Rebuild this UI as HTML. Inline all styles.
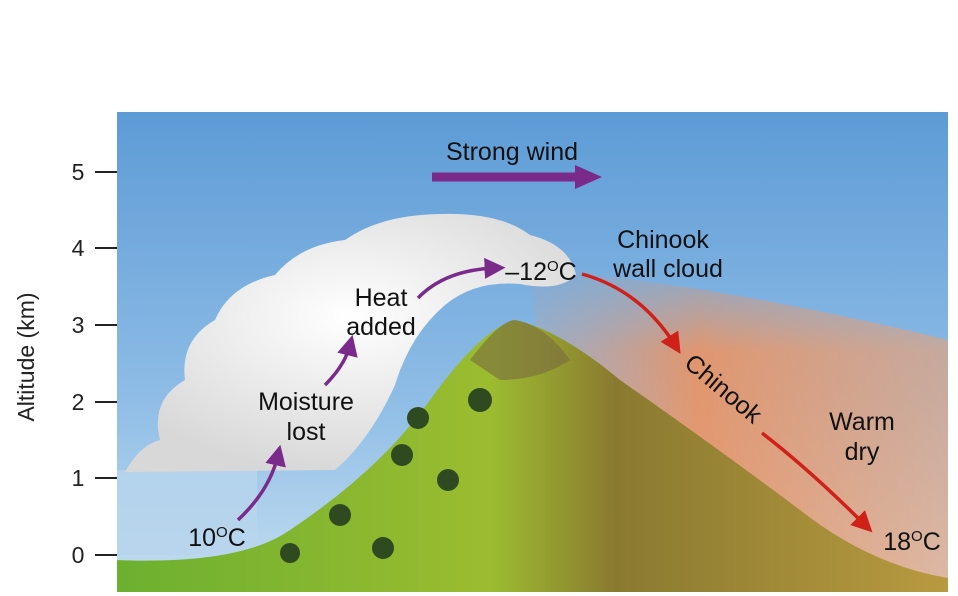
<!DOCTYPE html>
<html><head><meta charset="utf-8"><style>
html,body{margin:0;padding:0;background:#fff;}
svg{display:block;font-family:"Liberation Sans",Arial,sans-serif;}
</style></head><body>
<svg width="958" height="596" viewBox="0 0 958 596" xmlns="http://www.w3.org/2000/svg">
<defs>
<linearGradient id="sky" x1="0" y1="0" x2="0" y2="1">
<stop offset="0" stop-color="#5d9bd6"/><stop offset="0.6" stop-color="#8fbde6"/><stop offset="1" stop-color="#c4def0"/>
</linearGradient>
<linearGradient id="haze" x1="0" y1="0" x2="1" y2="0">
<stop offset="0" stop-color="#f09060" stop-opacity="0.2"/><stop offset="0.4" stop-color="#f0905a" stop-opacity="0.85"/><stop offset="1" stop-color="#f0a070" stop-opacity="0.6"/>
</linearGradient>
<linearGradient id="hazev" x1="0" y1="0" x2="0" y2="1">
<stop offset="0" stop-color="#fff" stop-opacity="0"/><stop offset="0.3" stop-color="#fff" stop-opacity="1"/><stop offset="1" stop-color="#fff" stop-opacity="1"/>
</linearGradient>
<mask id="hm"><rect x="500" y="250" width="460" height="340" fill="url(#hazev)"/></mask>
<linearGradient id="mtn" x1="0" y1="0" x2="1" y2="0">
<stop offset="0" stop-color="#6cb030"/><stop offset="0.45" stop-color="#9cbc30"/><stop offset="0.6" stop-color="#8a7a30"/><stop offset="1" stop-color="#b89a40"/>
</linearGradient>
<radialGradient id="cl" cx="0.5" cy="0.4" r="0.6">
<stop offset="0" stop-color="#ffffff"/><stop offset="1" stop-color="#d8d8d8"/>
</radialGradient>
<marker id="ap" markerWidth="6" markerHeight="6" refX="3" refY="3" orient="auto"><path d="M0,0 L6,3 L0,6z" fill="#7a2a8a"/></marker>
<marker id="ar" markerWidth="6" markerHeight="6" refX="3" refY="3" orient="auto"><path d="M0,0 L6,3 L0,6z" fill="#d0201a"/></marker>
</defs>
<rect x="117" y="112" width="831" height="480" fill="url(#sky)"/>
<path d="M530,270 Q700,280 948,340 L948,585 L560,585 Z" fill="url(#haze)" mask="url(#hm)"/>
<rect x="117" y="470" width="140" height="85" fill="#b8d4ec" opacity="0.8"/>
<path d="M117,560 Q240,565 290,530 Q380,470 430,400 Q480,330 515,320 Q560,330 620,380 Q720,450 800,510 Q870,565 948,578 L948,592 L117,592 Z" fill="url(#mtn)"/>
<path d="M470,360 Q500,320 515,320 Q545,325 570,360 Q540,380 500,380 Z" fill="#7a6a40" opacity="0.6"/>
<path d="M125,472 Q140,445 160,440 Q150,400 185,380 Q180,340 215,320 Q230,285 275,275 Q300,245 345,240 Q380,215 440,214 Q500,212 530,235 Q570,245 576,275 Q560,292 520,284 Q475,280 445,305 Q410,335 395,385 Q370,440 335,470 Z" fill="url(#cl)"/>
<g fill="#2f4a20"><circle cx="480" cy="400" r="12"/><circle cx="418" cy="418" r="11"/><circle cx="402" cy="455" r="11"/><circle cx="448" cy="480" r="11"/><circle cx="340" cy="515" r="11"/><circle cx="383" cy="548" r="11"/><circle cx="290" cy="553" r="10"/></g>
<rect x="0" y="0" width="958" height="112" fill="#fff"/>
<g stroke="#222" stroke-width="2"><line x1="95" y1="172" x2="117" y2="172"/><line x1="95" y1="248" x2="117" y2="248"/><line x1="95" y1="325" x2="117" y2="325"/><line x1="95" y1="402" x2="117" y2="402"/><line x1="95" y1="478" x2="117" y2="478"/><line x1="95" y1="555" x2="117" y2="555"/></g>
<g font-size="23" fill="#222" text-anchor="middle"><text x="78" y="180">5</text><text x="78" y="256">4</text><text x="78" y="333">3</text><text x="78" y="410">2</text><text x="78" y="486">1</text><text x="78" y="563">0</text></g>
<text transform="translate(34,357) rotate(-90)" font-size="23" fill="#222" text-anchor="middle">Altitude (km)</text>
<line x1="432" y1="177" x2="580" y2="177" stroke="#7a2a8a" stroke-width="9"/><path d="M575,165 L602,177 L575,189 Z" fill="#7a2a8a"/>
<g font-size="25" fill="#111" text-anchor="middle">
<text x="512" y="160">Strong wind</text>
<text x="663" y="248">Chinook</text><text x="668" y="277">wall cloud</text>
<text x="381" y="306">Heat</text><text x="381" y="335">added</text>
<text x="306" y="410">Moisture</text><text x="306" y="440">lost</text>
<text x="862" y="430">Warm</text><text x="862" y="460">dry</text>
<text x="217" y="546">10<tspan font-size="15" dy="-9">O</tspan><tspan dy="9">C</tspan></text>
<text x="541" y="280">–12<tspan font-size="15" dy="-9">O</tspan><tspan dy="9">C</tspan></text>
<text x="912" y="550">18<tspan font-size="15" dy="-9">O</tspan><tspan dy="9">C</tspan></text>
<text transform="translate(718,395) rotate(40)">Chinook</text>
</g>
<g fill="none" stroke="#7a2a8a" stroke-width="3.5">
<path d="M238,520 Q270,490 278,455" marker-end="url(#ap)"/>
<path d="M325,385 Q345,365 350,345" marker-end="url(#ap)"/>
<path d="M418,298 Q445,270 495,268" marker-end="url(#ap)"/>
</g>
<g fill="none" stroke="#d0201a" stroke-width="3.5">
<path d="M582,274 Q640,290 675,345" marker-end="url(#ar)"/>
<path d="M762,433 Q810,470 865,525" marker-end="url(#ar)"/>
</g>
</svg>
</body></html>
